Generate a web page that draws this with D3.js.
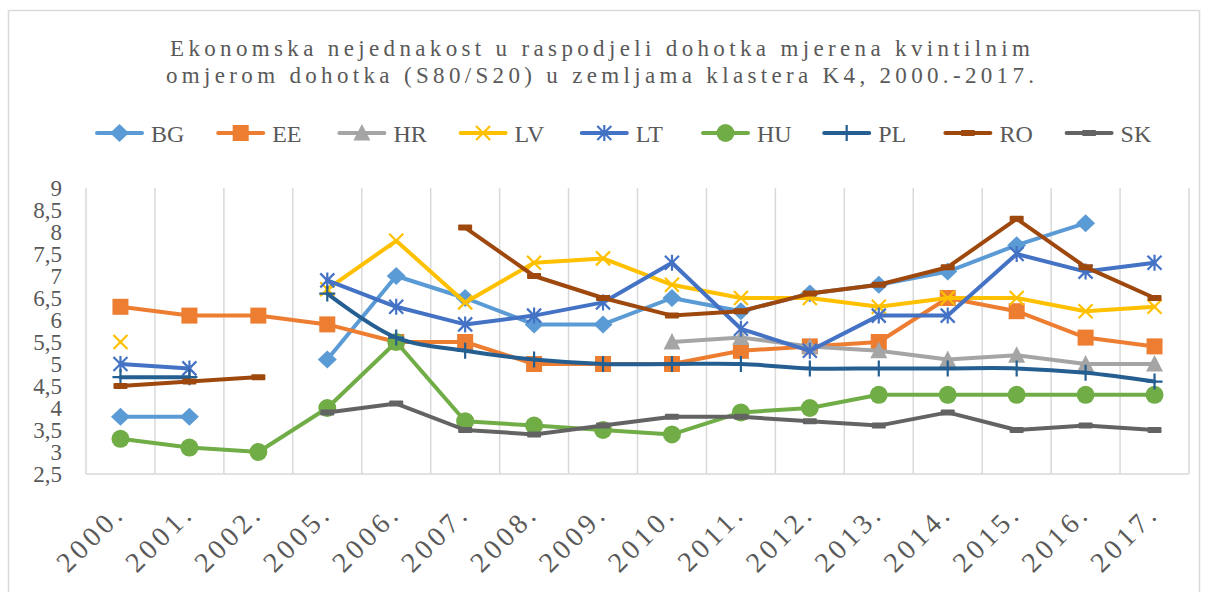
<!DOCTYPE html>
<html>
<head>
<meta charset="utf-8">
<script src="https://cdn.jsdelivr.net/npm/d3@7"></script>
<style>
  html, body { margin: 0; padding: 0; background: #fff; }
  svg { display: block; }
  text { font-family: "Liberation Serif", "Times New Roman", serif; fill: #595959; }
</style>
</head>
<body>
<svg id="chart" width="1205" height="592"></svg>
<script>
// Income quintile share ratio (S80/S20), cluster K4 countries
const years = ["2000.", "2001.", "2002.", "2005.", "2006.", "2007.", "2008.", "2009.",
               "2010.", "2011.", "2012.", "2013.", "2014.", "2015.", "2016.", "2017."];

const BG = [3.8, 3.8, null, 5.1, 7.0, 6.5, 5.9, 5.9, 6.5, 6.2, 6.6, 6.8, 7.1, 7.7, 8.2, null];
const EE = [6.3, 6.1, 6.1, 5.9, 5.5, 5.5, 5.0, 5.0, 5.0, 5.3, 5.4, 5.5, 6.5, 6.2, 5.6, 5.4];
const HR = [null, null, null, null, null, null, null, null, 5.5, 5.6, 5.4, 5.3, 5.1, 5.2, 5.0, 5.0];
const LV = [5.5, null, null, 6.7, 7.8, 6.4, 7.3, 7.4, 6.8, 6.5, 6.5, 6.3, 6.5, 6.5, 6.2, 6.3];
const LT = [5.0, 4.9, null, 6.9, 6.3, 5.9, 6.1, 6.4, 7.3, 5.8, 5.3, 6.1, 6.1, 7.5, 7.1, 7.3];
const HU = [3.3, 3.1, 3.0, 4.0, 5.5, 3.7, 3.6, 3.5, 3.4, 3.9, 4.0, 4.3, 4.3, 4.3, 4.3, 4.3];
const PL = [4.7, 4.7, null, 6.6, 5.6, 5.3, 5.1, 5.0, 5.0, 5.0, 4.9, 4.9, 4.9, 4.9, 4.8, 4.6];
const RO = [4.5, 4.6, 4.7, null, null, 8.1, 7.0, 6.5, 6.1, 6.2, 6.6, 6.8, 7.2, 8.3, 7.2, 6.5];
const SK = [null, null, null, 3.9, 4.1, 3.5, 3.4, 3.6, 3.8, 3.8, 3.7, 3.6, 3.9, 3.5, 3.6, 3.5];

const yTicks = [2.5, 3, 3.5, 4, 4.5, 5, 5.5, 6, 6.5, 7, 7.5, 8, 8.5, 9];

const titleLines = [
  "Ekonomska nejednakost u raspodjeli dohotka mjerena kvintilnim",
  "omjerom dohotka (S80/S20) u zemljama klastera K4, 2000.-2017."
];

const series = [
  { name: "BG", values: BG, color: "#5B9BD5", marker: "diamond" },
  { name: "EE", values: EE, color: "#ED7D31", marker: "square" },
  { name: "HR", values: HR, color: "#A5A5A5", marker: "triangle" },
  { name: "LV", values: LV, color: "#FFC000", marker: "x" },
  { name: "LT", values: LT, color: "#4472C4", marker: "star" },
  { name: "HU", values: HU, color: "#70AD47", marker: "circle" },
  { name: "PL", values: PL, color: "#255E91", marker: "plus", smooth: true },
  { name: "RO", values: RO, color: "#9E480E", marker: "dash" },
  { name: "SK", values: SK, color: "#636363", marker: "dash" }
];

const svg = d3.select("#chart");

// chart frame
svg.append("rect")
  .attr("x", 8.5).attr("y", 10.5)
  .attr("width", 1191).attr("height", 600)
  .attr("fill", "#fff").attr("stroke", "#d9d9d9").attr("stroke-width", 1.5);

const plot = { left: 86, right: 1189, top: 188, bottom: 474 };

const x = d3.scaleBand().domain(years).range([plot.left, plot.right]).padding(0);
const y = d3.scaleLinear().domain([2.5, 9]).range([plot.bottom, plot.top]);
const cx = d => x(d) + x.bandwidth() / 2;

// title
svg.append("g").selectAll("text").data(titleLines).join("text")
  .attr("x", 600).attr("y", (d, i) => 56 + i * 27)
  .attr("text-anchor", "middle")
  .attr("font-size", 23)
  .attr("textLength", (d, i) => i === 0 ? 860 : 868)
  .attr("lengthAdjust", "spacing")
  .text(d => d);

// vertical gridlines at category boundaries
const bounds = years.map(d => x(d)).concat([plot.right]);
svg.append("g").selectAll("line").data(bounds).join("line")
  .attr("x1", d => d).attr("x2", d => d)
  .attr("y1", plot.top).attr("y2", plot.bottom)
  .attr("stroke", "#d9d9d9").attr("stroke-width", 1.5);

// category axis line
svg.append("line")
  .attr("x1", plot.left).attr("x2", plot.right)
  .attr("y1", plot.bottom).attr("y2", plot.bottom)
  .attr("stroke", "#d9d9d9").attr("stroke-width", 1.5);

// value axis labels
const fmt = v => String(v).replace(".", ",");
const yAxis = d3.axisLeft(y).tickValues(yTicks).tickFormat(fmt).tickSize(0).tickPadding(0);
const yg = svg.append("g").attr("transform", "translate(62,0)").call(yAxis);
yg.select(".domain").remove();
yg.selectAll("text")
  .attr("font-size", 23)
  .attr("font-family", "Liberation Serif, Times New Roman, serif")
  .attr("fill", "#595959")
  .attr("dy", "0.34em");

// category axis labels, rotated
const xAxis = d3.axisBottom(x).tickSize(0).tickPadding(0);
const xg = svg.append("g").attr("transform", `translate(0,${plot.bottom})`).call(xAxis);
xg.select(".domain").remove();
xg.selectAll("text")
  .attr("font-size", 28)
  .attr("font-family", "Liberation Serif, Times New Roman, serif")
  .attr("fill", "#595959")
  .attr("letter-spacing", 4)
  .attr("text-anchor", "end")
  .attr("dy", 0)
  .attr("y", 0)
  .attr("transform", "translate(6,41) rotate(-45)");

// marker shapes
function drawMarker(g, type, color, px, py) {
  const m = g.append("g").attr("transform", `translate(${px},${py})`);
  switch (type) {
    case "diamond":
      m.append("path").attr("d", "M0,-9L9.5,0L0,9L-9.5,0Z").attr("fill", color);
      break;
    case "square":
      m.append("rect").attr("x", -8).attr("y", -8).attr("width", 16).attr("height", 16).attr("fill", color);
      break;
    case "triangle":
      m.append("path").attr("d", "M0,-9L8.5,7.5L-8.5,7.5Z").attr("fill", color);
      break;
    case "circle":
      m.append("circle").attr("r", 9).attr("fill", color);
      break;
    case "x":
      m.append("path").attr("d", "M-7,-7L7,7M-7,7L7,-7")
        .attr("stroke", color).attr("stroke-width", 2.2).attr("fill", "none");
      break;
    case "star":
      m.append("path").attr("d", "M-7,-7L7,7M-7,7L7,-7M0,-8L0,8")
        .attr("stroke", color).attr("stroke-width", 2.2).attr("fill", "none");
      break;
    case "plus":
      m.append("path").attr("d", "M0,-8L0,8M-8,0L8,0")
        .attr("stroke", color).attr("stroke-width", 2.2).attr("fill", "none");
      break;
    case "dash":
      m.append("rect").attr("x", -7).attr("y", -3).attr("width", 14).attr("height", 6)
        .attr("rx", 1).attr("fill", color);
      break;
  }
}

// series lines and markers
const seriesG = svg.append("g");
series.forEach(s => {
  const pts = years.map((yr, i) => ({ yr, v: s.values[i] }));
  const line = d3.line()
    .defined(d => d.v !== null)
    .x(d => cx(d.yr))
    .y(d => y(d.v))
    .curve(s.smooth ? d3.curveCatmullRom.alpha(0.5) : d3.curveLinear);
  const g = seriesG.append("g");
  g.append("path").attr("d", line(pts))
    .attr("fill", "none").attr("stroke", s.color)
    .attr("stroke-width", 4).attr("stroke-linejoin", "round").attr("stroke-linecap", "round");
  pts.filter(d => d.v !== null).forEach(d => drawMarker(g, s.marker, s.color, cx(d.yr), y(d.v)));
});

// legend
const legend = svg.append("g");
series.forEach((s, i) => {
  const x0 = 97 + i * 121.2;
  const g = legend.append("g");
  g.append("line").attr("x1", x0).attr("x2", x0 + 45).attr("y1", 133).attr("y2", 133)
    .attr("stroke", s.color).attr("stroke-width", 4).attr("stroke-linecap", "round");
  drawMarker(g, s.marker, s.color, x0 + 22.5, 133);
  g.append("text").attr("x", x0 + 54).attr("y", 142).attr("font-size", 24).text(s.name);
});
</script>
</body>
</html>
